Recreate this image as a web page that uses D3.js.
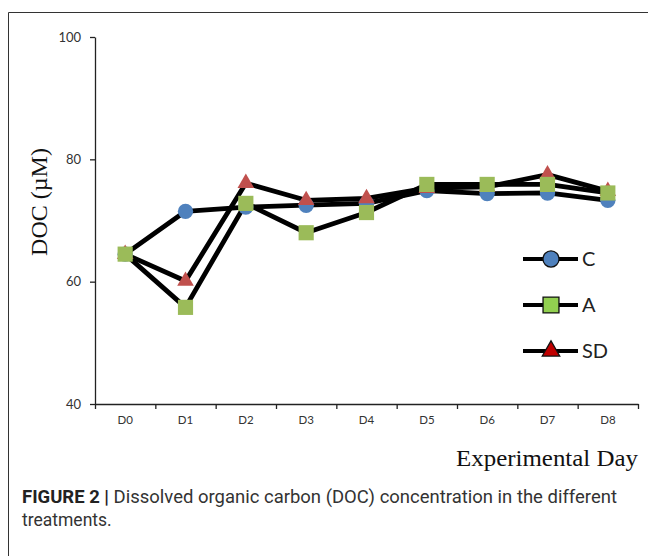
<!DOCTYPE html>
<html>
<head>
<meta charset="utf-8">
<script src="https://cdn.jsdelivr.net/npm/d3@7"></script>
<style>
  body { margin: 0; background: #fff; }
  svg { display: block; }
</style>
</head>
<body>
<svg id="chart" width="648" height="556"></svg>
<script>
// --- data ---
const days = ['D0', 'D1', 'D2', 'D3', 'D4', 'D5', 'D6', 'D7', 'D8'];
const docC  = [64.5, 71.5, 72.2, 72.5, 72.8, 74.9, 74.4, 74.5, 73.3];
const docA  = [64.5, 55.8, 72.8, 68.0, 71.3, 75.9, 75.9, 75.9, 74.5];
const docSD = [64.5, 60.1, 76.1, 73.3, 73.6, 75.3, 75.5, 77.5, 74.8];
const yTicks = [40, 60, 80, 100];
const seriesNames = ['C', 'A', 'SD'];

const series = [
  { name: 'C',  values: docC,  symbol: d3.symbolCircle,   size: 185, fill: '#4f81bd', legendFill: '#4f81bd' },
  { name: 'SD', values: docSD, symbol: d3.symbolTriangle, size: 120, fill: '#c0504d', legendFill: '#c00000' },
  { name: 'A',  values: docA,  symbol: d3.symbolSquare,   size: 230, fill: '#9bbb59', legendFill: '#92d050' }
];

const svg = d3.select('#chart');
const mLeft = 95, mRight = 638, mTop = 37, mBottom = 404;

// frame round the figure
svg.append('path')
  .attr('d', 'M8.5,556 L8.5,12.5 L648,12.5')
  .attr('fill', 'none').attr('stroke', '#333').attr('stroke-width', 1);

const x = d3.scaleBand().domain(days).range([mLeft, mRight]);
const xIdx = d3.scaleLinear().domain([0, days.length]).range([mLeft, mRight]);
const y = d3.scaleLinear().domain([40, 100]).range([mBottom, mTop]);

// y axis
const gy = svg.append('g').attr('transform', `translate(${mLeft},0)`)
  .call(d3.axisLeft(y).tickValues(yTicks).tickSize(5).tickSizeOuter(0).tickPadding(9));
gy.select('.domain').attr('stroke', '#222').attr('stroke-width', 1.3);
gy.selectAll('.tick line').attr('stroke', '#222').attr('stroke-width', 1.3);
gy.selectAll('.tick text').attr('font-family', 'Lato, "Open Sans", sans-serif')
  .attr('font-size', 13).attr('fill', '#333');

// x axis: ticks between categories, labels centred
const gx = svg.append('g').attr('transform', `translate(0,${mBottom})`)
  .call(d3.axisBottom(xIdx).tickValues(d3.range(days.length + 1)).tickFormat('').tickSize(5).tickSizeOuter(0));
gx.select('.domain').attr('stroke', '#222').attr('stroke-width', 1.3);
gx.selectAll('.tick line').attr('stroke', '#222').attr('stroke-width', 1.3);

const gxl = svg.append('g').attr('transform', `translate(0,${mBottom})`)
  .call(d3.axisBottom(x).tickSize(0).tickPadding(12));
gxl.select('.domain').remove();
gxl.selectAll('.tick text').attr('font-family', 'Lato, "Open Sans", sans-serif')
  .attr('font-size', 11.5).attr('fill', '#333');

// axis titles
svg.append('text')
  .attr('transform', 'translate(47,202) rotate(-90)')
  .attr('text-anchor', 'middle')
  .attr('font-family', '"Liberation Serif", "Times New Roman", serif')
  .attr('font-size', 24).attr('fill', '#111')
  .text('DOC (µM)');

svg.append('text')
  .attr('x', 638).attr('y', 466)
  .attr('text-anchor', 'end')
  .attr('font-family', '"Liberation Serif", "Times New Roman", serif')
  .attr('font-size', 24).attr('fill', '#111')
  .attr('textLength', 182).attr('lengthAdjust', 'spacingAndGlyphs')
  .text('Experimental Day');

// lines
const line = d3.line().x((d, i) => x(days[i]) + x.bandwidth() / 2).y(d => y(d));
svg.append('g').selectAll('path').data(series).join('path')
  .attr('d', d => line(d.values))
  .attr('fill', 'none').attr('stroke', '#000').attr('stroke-width', 4.8)
  .attr('stroke-linejoin', 'round');

// markers
series.forEach(s => {
  svg.append('g').selectAll('path').data(s.values).join('path')
    .attr('transform', (d, i) => `translate(${x(days[i]) + x.bandwidth() / 2},${y(d)})`)
    .attr('d', d3.symbol().type(s.symbol).size(s.size))
    .attr('fill', s.fill);
});

// legend
const legendY = d3.scalePoint().domain(seriesNames).range([259, 351]);
const lg = svg.append('g');
seriesNames.forEach(name => {
  const s = series.find(d => d.name === name);
  const yy = legendY(name);
  lg.append('line').attr('x1', 523).attr('x2', 578).attr('y1', yy).attr('y2', yy)
    .attr('stroke', '#000').attr('stroke-width', 4);
  lg.append('path')
    .attr('transform', `translate(551,${yy})`)
    .attr('d', d3.symbol().type(s.symbol).size(s.size * 1.1))
    .attr('fill', s.legendFill).attr('stroke', '#111').attr('stroke-width', 1.3);
  lg.append('text').attr('x', 582).attr('y', yy + 7)
    .attr('font-family', 'Lato, "Open Sans", sans-serif')
    .attr('font-size', 20).attr('fill', '#222')
    .text(name);
});

// caption
const cap = svg.append('text')
  .attr('x', 22).attr('y', 503)
  .attr('font-family', 'Roboto, "Liberation Sans", sans-serif')
  .attr('font-size', 17.5).attr('fill', '#333')
  .attr('textLength', 595).attr('lengthAdjust', 'spacingAndGlyphs');
cap.append('tspan').attr('font-weight', 'bold').attr('fill', '#222').text('FIGURE 2 | ');
cap.append('tspan').text('Dissolved organic carbon (DOC) concentration in the different');
svg.append('text')
  .attr('x', 22).attr('y', 526)
  .attr('font-family', 'Roboto, "Liberation Sans", sans-serif')
  .attr('font-size', 17.5).attr('fill', '#333')
  .text('treatments.');
</script>
</body>
</html>
